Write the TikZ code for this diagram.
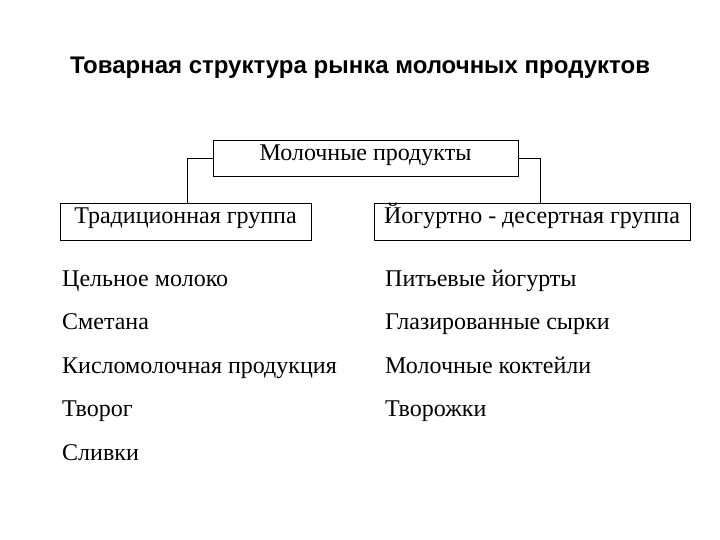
\documentclass[tikz,border=0pt]{standalone}
\usepackage{fontspec}
\setmainfont{Liberation Serif}
\newfontfamily\titlefont{Liberation Sans}
\begin{document}
\begin{tikzpicture}[x=1pt,y=-1pt,
  box/.style={draw,line width=0.8pt,inner sep=0pt,text height=0.7em,text depth=0.22em,font=\fontsize{24}{26}\selectfont},
  item/.style={anchor=west,inner sep=0pt,text height=0.7em,text depth=0.22em,font=\fontsize{24}{26}\selectfont},
  conn/.style={line width=0.8pt}]
\useasboundingbox (0,0) rectangle (720,540);
\node[anchor=center,text height=0.7em,text depth=0.22em,font=\titlefont\bfseries\fontsize{24}{26}\selectfont] (title) at (360,71) {Товарная структура рынка молочных продуктов};
\node[box,minimum width=305,minimum height=36] (top) at (365.5,158) {Молочные продукты};
\node[box,minimum width=251,minimum height=37] (left) at (185.5,221.5) {Традиционная группа};
\node[box,minimum width=316,minimum height=37] (right) at (532,221.5) {Йогуртно - десертная группа};
\draw[conn] (top.west) -- (187,158) -- (187,203);
\draw[conn] (top.east) -- (540,158) -- (540,203);
\node[item] (l1) at (62,284) {Цельное молоко};
\node[item] (l2) at (62,327) {Сметана};
\node[item] (l3) at (62,371) {Кисломолочная продукция};
\node[item] (l4) at (62,414) {Творог};
\node[item] (l5) at (62,458) {Сливки};
\node[item] (r1) at (385,284) {Питьевые йогурты};
\node[item] (r2) at (385,327) {Глазированные сырки};
\node[item] (r3) at (385,371) {Молочные коктейли};
\node[item] (r4) at (385,414) {Творожки};
\end{tikzpicture}
\end{document}
